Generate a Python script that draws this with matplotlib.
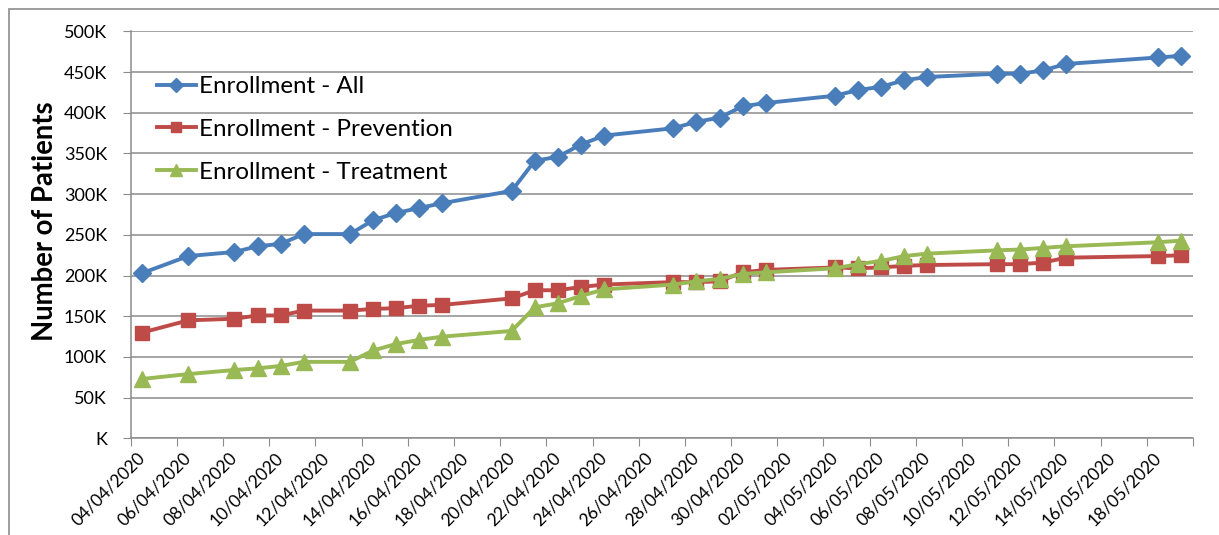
import pandas as pd
import matplotlib
matplotlib.use("Agg")
import matplotlib.pyplot as plt
from matplotlib.patches import Rectangle

dates = ['04/04/2020', '06/04/2020', '08/04/2020', '09/04/2020', '10/04/2020', '11/04/2020',
         '13/04/2020', '14/04/2020', '15/04/2020', '16/04/2020', '17/04/2020', '20/04/2020',
         '21/04/2020', '22/04/2020', '23/04/2020', '24/04/2020', '27/04/2020', '28/04/2020',
         '29/04/2020', '30/04/2020', '01/05/2020', '04/05/2020', '05/05/2020', '06/05/2020',
         '07/05/2020', '08/05/2020', '11/05/2020', '12/05/2020', '13/05/2020', '14/05/2020',
         '18/05/2020', '19/05/2020']
enroll_all = [203, 224, 229, 236, 239, 251, 251, 268, 277, 283, 289, 304, 341, 346, 361, 372,
              381, 389, 394, 408, 412, 421, 428, 432, 440, 444, 448, 448, 452, 460, 468, 470]
enroll_prev = [130, 145, 147, 151, 151, 157, 157, 159, 160, 163, 164, 172, 182, 182, 186, 189,
               192, 192, 193, 204, 207, 210, 209, 210, 212, 213, 214, 214, 216, 222, 224, 225]
enroll_treat = [73, 79, 84, 86, 89, 94, 94, 108, 116, 121, 125, 132, 161, 166, 175, 183,
                189, 193, 196, 202, 204, 209, 214, 218, 224, 227, 231, 232, 234, 236, 241, 243]
y_ticks = list(range(0, 501, 50))

plt.rcParams['font.family'] = ['Lato', 'DejaVu Sans']

# Excel date axis: each point sits in the middle of its day
x = pd.to_datetime(dates, format='%d/%m/%Y') + pd.Timedelta(hours=12)
start = pd.Timestamp('2020-04-04')
end = pd.Timestamp('2020-05-20')
major = pd.date_range(start, end, freq='2D')
labels = pd.date_range(start, pd.Timestamp('2020-05-18'), freq='2D')

fig = plt.figure(figsize=(12.19, 5.35), dpi=100)
ax = fig.add_axes([0.1071, 0.1806, 0.9787 - 0.1071, 0.9413 - 0.1806])
fig.patches.append(Rectangle((9 / 1219, -0.1), 1.2, 1.1 - 9.3 / 535, transform=fig.transFigure,
                             fill=False, edgecolor='#8c8c8c', linewidth=1.2))

ax.plot(x, enroll_all, color='#4a7ebb', lw=2.8, marker='D', ms=9.5, label='Enrollment - All')
ax.plot(x, enroll_prev, color='#be4b48', lw=2.8, marker='s', ms=10, label='Enrollment - Prevention')
ax.plot(x, enroll_treat, color='#98b954', lw=2.8, marker='^', ms=11, label='Enrollment - Treatment')

ax.set_xlim(start, end)
ax.set_ylim(0, 500)
ax.set_yticks(y_ticks)
ax.set_yticklabels([f'{v}K' if v else 'K' for v in y_ticks])
ax.yaxis.grid(True, color='#8c8c8c', lw=1.1)
ax.set_axisbelow(True)

# tick marks every 2 days, labels as invisible minor ticks a bit to the right
ax.set_xticks(major)
ax.set_xticklabels([])
ax.set_xticks(labels + pd.Timedelta(hours=18), minor=True)
ax.set_xticklabels([d.strftime('%d/%m/%Y') for d in labels], minor=True,
                   rotation=45, ha='right', va='top')
ax.tick_params(axis='x', which='minor', length=0, pad=8, labelsize=12.5)
ax.tick_params(axis='x', which='major', length=6, color='#8c8c8c')
ax.tick_params(axis='y', length=6, color='#8c8c8c', labelsize=13, pad=11)

for side in ['top', 'right']:
    ax.spines[side].set_visible(False)
for side in ['left', 'bottom']:
    ax.spines[side].set_color('#8c8c8c')
    ax.spines[side].set_linewidth(1.1)

fig.text(45 / 1219, 1 - 221 / 535, 'Number of Patients', rotation=90, ha='center', va='center',
         fontsize=19.8, fontweight='bold')

leg = ax.legend(loc='upper left', bbox_to_anchor=(0.025, 0.89), frameon=False, fontsize=17.4,
                handlelength=1.6, markerscale=0.75, labelspacing=0.9, handletextpad=0.15,
                borderaxespad=0, borderpad=0)

fig.savefig('out.png', dpi=100)
